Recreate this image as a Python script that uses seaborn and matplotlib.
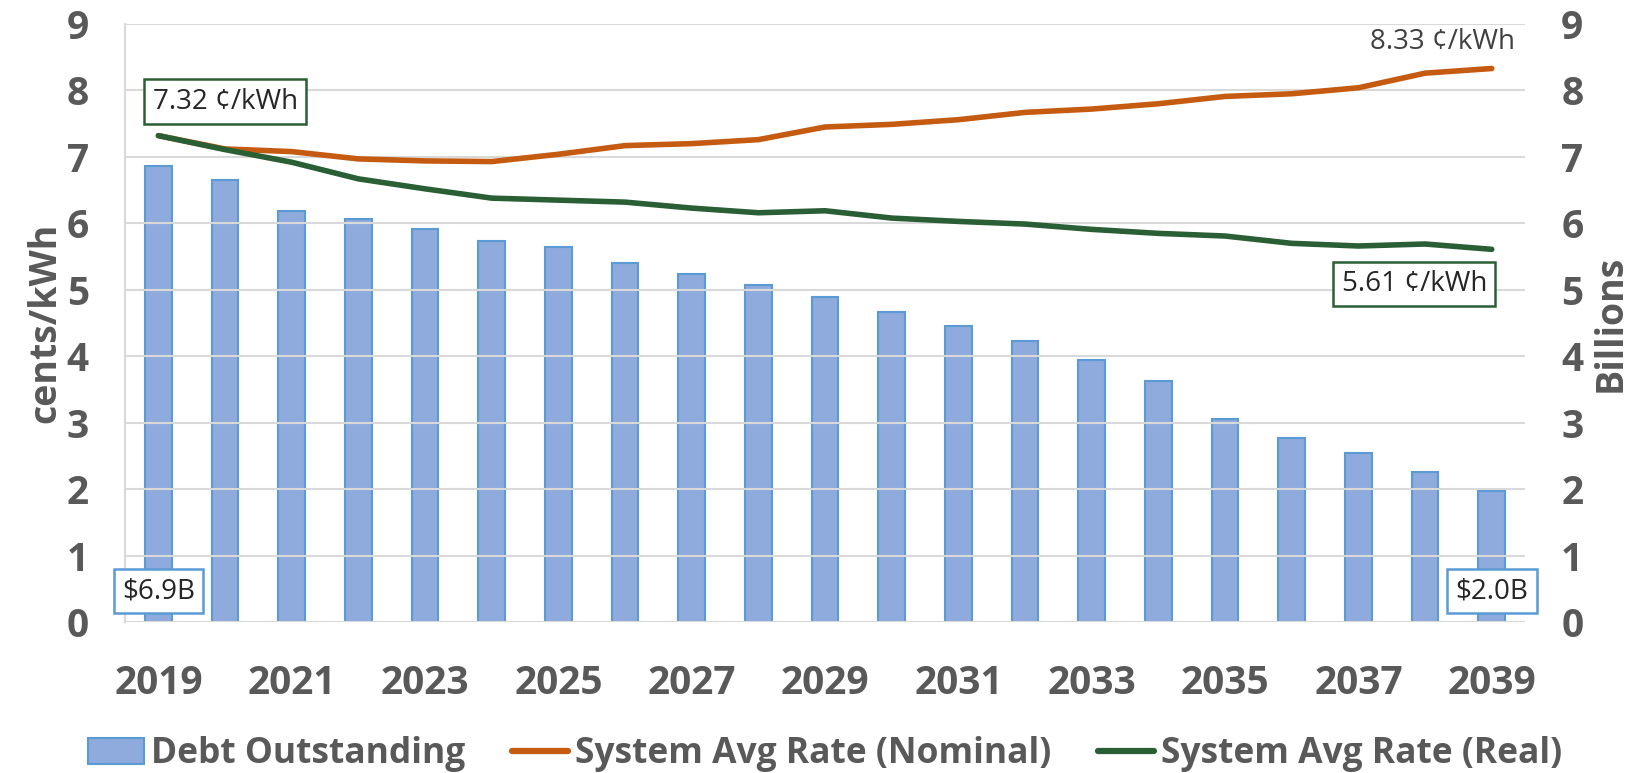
import numpy as np
import pandas as pd
import seaborn as sns
import matplotlib
matplotlib.use("Agg")
from matplotlib import pyplot as plt
from matplotlib.patches import Patch
from matplotlib.lines import Line2D

# values
years = list(range(2019, 2040))
debt = [6.86, 6.65, 6.18, 6.07, 5.92, 5.74, 5.64, 5.40, 5.24, 5.07, 4.90,
        4.67, 4.45, 4.23, 3.94, 3.63, 3.06, 2.77, 2.54, 2.26, 1.97]
nominal = [7.32, 7.12, 7.08, 6.97, 6.94, 6.93, 7.04, 7.17, 7.20, 7.26, 7.45,
           7.49, 7.56, 7.67, 7.72, 7.80, 7.91, 7.95, 8.04, 8.26, 8.33]
real = [7.32, 7.11, 6.92, 6.67, 6.52, 6.38, 6.35, 6.32, 6.23, 6.16, 6.19,
        6.08, 6.03, 5.99, 5.91, 5.85, 5.81, 5.70, 5.66, 5.69, 5.61]

bar_face = "#8FAADC"
bar_edge = "#5B9BD5"
c_nom = "#C55A11"
c_real = "#2A5E35"
grey = "#595959"

sns.set_style("white")
plt.rcParams["font.family"] = ["Open Sans", "DejaVu Sans"]

df = pd.DataFrame({"year": years, "debt": debt, "nominal": nominal, "real": real})
df["pos"] = np.arange(len(df))

fig = plt.figure(figsize=(16.5, 7.73), dpi=100)
ax = fig.add_axes([0.0758, 0.195, 0.8485, 0.774])
ax2 = ax.twinx()

# bars go on the secondary (Billions) axis
sns.barplot(data=df, x="year", y="debt", ax=ax2, color=bar_face, width=0.4,
            saturation=1, edgecolor=bar_edge, linewidth=1.5)
ax.set_zorder(ax2.get_zorder() + 1)
ax.patch.set_visible(False)

sns.lineplot(data=df, x="pos", y="nominal", ax=ax, color=c_nom, lw=4)
sns.lineplot(data=df, x="pos", y="real", ax=ax, color=c_real, lw=4)

for a in (ax, ax2):
    a.set_ylim(0, 9)
    a.set_yticks(range(0, 10))
    for s in a.spines.values():
        s.set_visible(False)
ax.set_xlim(-0.5, len(years) - 0.5)

ax2.grid(False)
ax.yaxis.grid(True, color="#D9D9D9", lw=1.5)
ax.set_axisbelow(True)
ax.spines["left"].set_visible(True)
ax.spines["left"].set_color("#D9D9D9")
ax.spines["left"].set_linewidth(1.5)

ax2.set_xlabel("")
ax.set_xlabel("")
ax.set_xticks(df["pos"][::2])
ax.set_xticklabels(df["year"][::2])
ax2.tick_params(axis="x", bottom=False, labelbottom=False)

tick_kw = dict(labelsize=28, colors=grey, length=0)
ax.tick_params(axis="y", pad=26, **tick_kw)
ax.tick_params(axis="x", pad=30, **tick_kw)
ax2.tick_params(axis="y", pad=26, **tick_kw)
for lab in ax.get_xticklabels() + ax.get_yticklabels() + ax2.get_yticklabels():
    lab.set_fontweight("bold")

ax.set_ylabel("cents/kWh", fontsize=27, fontweight="bold", color=grey, labelpad=2)
ax2.set_ylabel("Billions", fontsize=27, fontweight="bold", color=grey, labelpad=6)

# data labels
box = dict(boxstyle="square,pad=0.3", fc="white", lw=1.8)
ax.text(1.0, 7.83, f"{real[0]:.2f} \u00a2/kWh", fontsize=20, ha="center", va="center",
        bbox=dict(box, ec=c_real))
ax.text(18.84, 5.09, f"{real[-1]:.2f} \u00a2/kWh", fontsize=20, ha="center", va="center",
        bbox=dict(box, ec=c_real))
ax.text(20.35, 8.73, f"{nominal[-1]:.2f} \u00a2/kWh", fontsize=20, ha="right", va="center",
        color="#404040")
ax.text(0, 0.47, f"${debt[0]:.1f}B", fontsize=20, ha="center", va="center",
        bbox=dict(box, ec=bar_edge))
ax.text(20, 0.47, f"${debt[-1]:.1f}B", fontsize=20, ha="center", va="center",
        bbox=dict(box, ec=bar_edge))

handles = [Patch(fc=bar_face, ec=bar_edge, lw=1.5),
           Line2D([], [], color=c_nom, lw=4.5),
           Line2D([], [], color=c_real, lw=4.5)]
labels = ["Debt Outstanding", "System Avg Rate (Nominal)", "System Avg Rate (Real)"]
leg = fig.legend(handles, labels, loc="center", bbox_to_anchor=(0.5, 0.024), ncol=3,
                 frameon=False, fontsize=25.5, handlelength=1.6, handletextpad=0.2,
                 columnspacing=1.3, handleheight=0.75)
for t in leg.get_texts():
    t.set_fontweight("bold")
    t.set_color(grey)

fig.savefig("out.png", dpi=100)
